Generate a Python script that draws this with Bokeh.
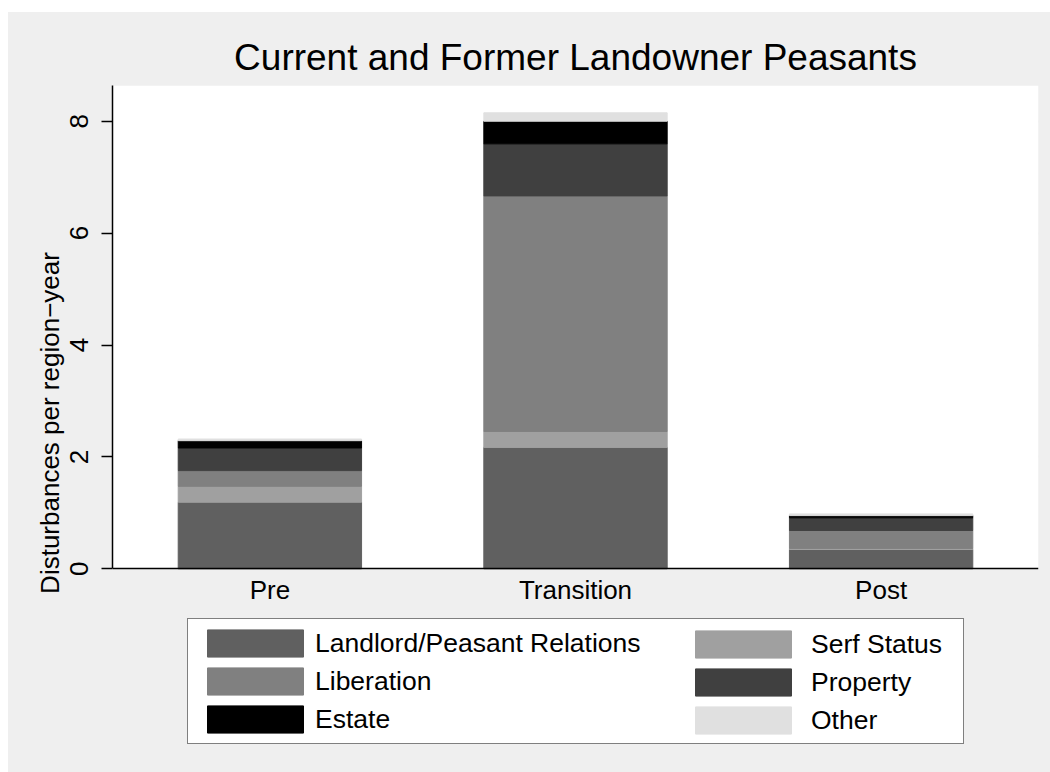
from bokeh.plotting import figure
from bokeh.models import ColumnDataSource, Legend, LegendItem, FixedTicker, FactorRange, BoxAnnotation
from bokeh.embed import file_html
from bokeh.resources import INLINE

# ---- data ----
periods = ["Pre", "Transition", "Post"]
landlord = [1.19, 2.17, 0.345]
serf = [0.285, 0.285, 0.02]
liberation = [0.28, 4.21, 0.32]
property_ = [0.405, 0.93, 0.226]
estate = [0.13, 0.405, 0.04]
other = [0.03, 0.15, 0.03]

series_names = ["Landlord/Peasant Relations", "Serf Status", "Liberation",
                "Property", "Estate", "Other"]
series_keys = ["landlord", "serf", "liberation", "property", "estate", "other"]
series_colors = ["#606060", "#a0a0a0", "#808080", "#404040", "#000000", "#e0e0e0"]
y_ticks = [0, 2, 4, 6, 8]
y_top = 8.638
y_bottom = -3.426   # room below the axis for the legend

FONT = "Liberation Sans"
BG = "#efefef"

source = ColumnDataSource(dict(period=periods, landlord=landlord, serf=serf,
                               liberation=liberation, property=property_,
                               estate=estate, other=other))

p = figure(x_range=FactorRange(*periods, range_padding=0.01), y_range=(y_bottom, y_top),
           frame_width=926, frame_height=675, output_backend="svg", toolbar_location=None,
           min_border_left=104, min_border_top=73, min_border_right=12,
           min_border_bottom=12, background_fill_color=BG,
           border_fill_color=None, outline_line_color=None,
           title="Current and Former Landowner Peasants")
p.margin = (12, 0, 0, 8)
p.styles = {"background-color": BG}

# white plotting region above the zero line
p.add_layout(BoxAnnotation(bottom=0, fill_color="white", fill_alpha=1.0, line_alpha=0,
                           level="underlay"))

rs = p.vbar_stack(series_keys, x="period", width=0.6, source=source,
                  fill_color=series_colors, line_color=series_colors, line_width=1)

# title
p.title.text_font = FONT
p.title.text_font_size = "37px"
p.title.text_font_style = "normal"
p.title.align = "center"
p.title.text_color = "black"
p.title.standoff = 15

# axes
yax = p.yaxis[0]
yax.ticker = FixedTicker(ticks=y_ticks)
yax.bounds = (0, y_top)
yax.minor_tick_line_color = None
yax.major_tick_in = 0
yax.major_tick_out = 11
yax.major_tick_line_width = 1.5
yax.major_tick_line_color = "black"
yax.axis_line_width = 1.5
yax.axis_line_color = "black"
yax.major_label_orientation = "vertical"
yax.major_label_text_font = FONT
yax.major_label_text_font_size = "26px"
yax.major_label_text_color = "black"
yax.major_label_standoff = 13
yax.axis_label = "Disturbances per region\u2212year"
yax.axis_label_text_font = FONT
yax.axis_label_text_font_size = "26px"
yax.axis_label_text_font_style = "normal"
yax.axis_label_text_color = "black"
yax.axis_label_standoff = 3

xax = p.xaxis[0]
xax.fixed_location = 0
xax.major_tick_in = 0
xax.major_tick_out = 0
xax.axis_line_width = 1.5
xax.axis_line_color = "black"
xax.major_label_text_font = FONT
xax.major_label_text_font_size = "26px"
xax.major_label_text_color = "black"
xax.major_label_standoff = 6

p.xgrid.grid_line_color = None
p.ygrid.ticker = FixedTicker(ticks=[2, 4, 6, 8])
p.ygrid.grid_line_color = "#e4e4e4"
p.ygrid.grid_line_width = 2

def make_legend(idx, loc, boxed):
    items = [LegendItem(label=series_names[i], renderers=[rs[i]]) for i in idx]
    leg = Legend(items=items, location=loc, orientation="vertical",
                 glyph_width=120, glyph_height=34, spacing=4, padding=7, margin=0,
                 label_text_font=FONT, label_text_font_size="26.5px",
                 label_text_color="black")
    if boxed:
        leg.label_standoff = 0
        leg.label_width = 641
        leg.border_line_color = "black"
        leg.border_line_width = 1.5
        leg.background_fill_color = "white"
        leg.background_fill_alpha = 1.0
    else:
        leg.label_standoff = 8
        leg.label_width = 100
        leg.border_line_alpha = 0
        leg.background_fill_alpha = 0
    return leg

p.add_layout(make_legend([0, 2, 4], (75, 16), True))
p.add_layout(make_legend([1, 3, 5], (564, 16), False))

open("out.html", "w").write(file_html(p, INLINE))
